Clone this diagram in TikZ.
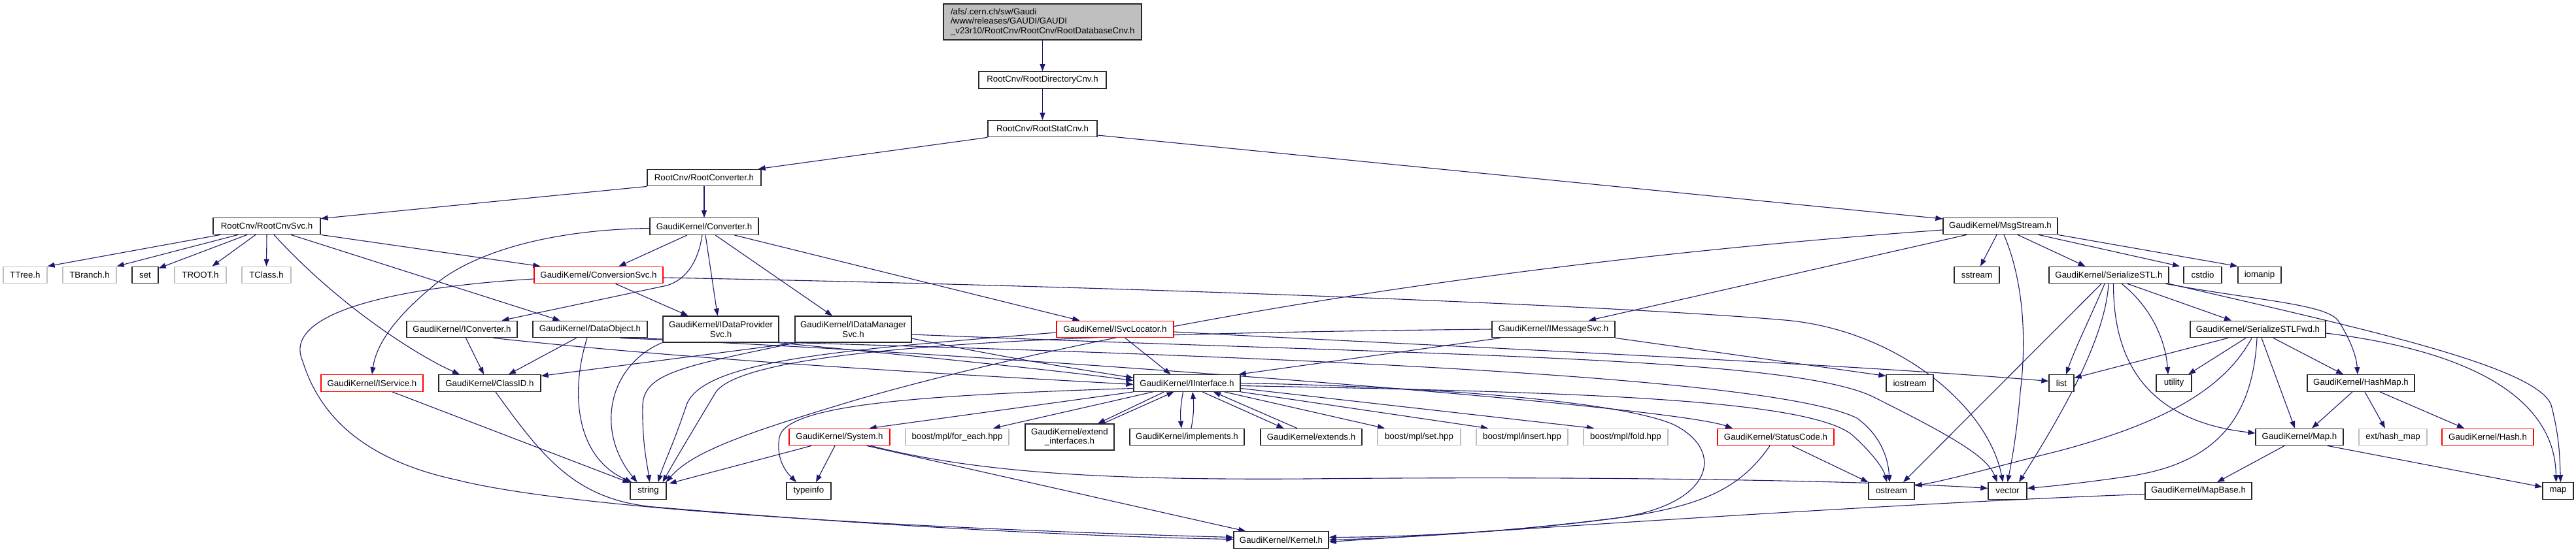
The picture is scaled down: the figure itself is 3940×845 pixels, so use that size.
\documentclass[tikz,border=0pt]{standalone}
\usepackage{fontspec}
\setmainfont{Liberation Sans}
\usetikzlibrary{arrows.meta}
\definecolor{mblue}{HTML}{191970}
\definecolor{gborder}{HTML}{BFBFBF}
\definecolor{rootfill}{HTML}{BFBFBF}
\newcommand\nodefont{\fontsize{13.3}{14.7}\selectfont}
\pgfdeclarelayer{bg}
\pgfdeclarelayer{edges}
\pgfsetlayers{bg,edges,main}
\tikzset{
  nbox/.style={draw=black!85, line width=1.3pt, fill=white, inner sep=0pt, font=\nodefont, align=center, minimum height=25.5pt},
  gbox/.style={nbox, draw=gborder},
  rbox/.style={nbox, draw=red},
  dep/.style={draw=mblue, line width=1.1pt, -{Triangle[length=11pt,width=8pt]}}
}
\begin{document}
\begin{tikzpicture}[x=1pt,y=-1pt]
\begin{pgfonlayer}{bg}
\fill[white] (0,0) rectangle (3940,845);
\end{pgfonlayer}
\useasboundingbox (0,0) rectangle (3940,845);

% nodes
\node[nbox, fill=rootfill, minimum width=303pt, minimum height=55pt, align=left, text width=281pt] (root) at (1594.5,33.5) {/afs/.cern.ch/sw/Gaudi\\/www/releases/GAUDI/GAUDI\\\_v23r10/RootCnv/RootCnv/RootDatabaseCnv.h};
\node[nbox, minimum width=195pt] (rdir) at (1594.5,122.5) {RootCnv/RootDirectoryCnv.h};
\node[nbox, minimum width=167pt] (rstat) at (1594.5,197) {RootCnv/RootStatCnv.h};
\node[nbox, minimum width=174pt] (rconv) at (1077,272) {RootCnv/RootConverter.h};
\node[nbox, minimum width=166pt] (conv) at (1077,346.5) {GaudiKernel/Converter.h};
\node[nbox, minimum width=164pt] (rcnvsvc) at (408,346) {RootCnv/RootCnvSvc.h};
\node[nbox, minimum width=175pt] (msg) at (3059.5,346) {GaudiKernel/MsgStream.h};
\node[gbox, minimum width=67pt] (ttree) at (38.5,421) {TTree.h};
\node[gbox, minimum width=82pt] (tbranch) at (137,421) {TBranch.h};
\node[nbox, minimum width=40pt] (set) at (222,421) {set};
\node[gbox, minimum width=79pt] (troot) at (306.5,421) {TROOT.h};
\node[gbox, minimum width=75pt] (tclass) at (407.5,421) {TClass.h};
\node[rbox, minimum width=197pt] (convsvc) at (915.5,421) {GaudiKernel/ConversionSvc.h};
\node[nbox, minimum width=69pt] (sstream) at (3023.5,421) {sstream};
\node[nbox, minimum width=183pt] (sstl) at (3225.5,421) {GaudiKernel/SerializeSTL.h};
\node[nbox, minimum width=58pt] (cstdio) at (3369,421) {cstdio};
\node[nbox, minimum width=66pt] (iomanip) at (3456,421) {iomanip};
\node[nbox, minimum width=169pt] (iconv) at (706.5,504) {GaudiKernel/IConverter.h};
\node[nbox, minimum width=175pt] (dobj) at (902.5,504) {GaudiKernel/DataObject.h};
\node[nbox, minimum width=177pt, minimum height=40pt] (idps) at (1102.5,504) {GaudiKernel/IDataProvider\\Svc.h};
\node[nbox, minimum width=178pt, minimum height=40pt] (idms) at (1305,504) {GaudiKernel/IDataManager\\Svc.h};
\node[rbox, minimum width=179pt] (isvcloc) at (1705.5,504) {GaudiKernel/ISvcLocator.h};
\node[nbox, minimum width=188pt] (imsg) at (2376,504) {GaudiKernel/IMessageSvc.h};
\node[nbox, minimum width=207pt] (sstlfwd) at (3453.5,504) {GaudiKernel/SerializeSTLFwd.h};
\node[rbox, minimum width=156pt] (iservice) at (569,586.5) {GaudiKernel/IService.h};
\node[nbox, minimum width=156pt] (classid) at (749,586.5) {GaudiKernel/ClassID.h};
\node[nbox, minimum width=163pt] (iint) at (1815.5,586.5) {GaudiKernel/IInterface.h};
\node[nbox, minimum width=72pt] (iostream) at (2921,586.5) {iostream};
\node[nbox, minimum width=38pt] (list) at (3153,586.5) {list};
\node[nbox, minimum width=54pt] (utility) at (3325,586.5) {utility};
\node[nbox, minimum width=164pt] (hashmap) at (3611,586.5) {GaudiKernel/HashMap.h};
\node[rbox, minimum width=154pt] (system) at (1284,669) {GaudiKernel/System.h};
\node[gbox, minimum width=158pt] (foreach) at (1464,669) {boost/mpl/for\_each.hpp};
\node[nbox, minimum width=136pt, minimum height=40pt] (extint) at (1636,669) {GaudiKernel/extend\\\_interfaces.h};
\node[nbox, minimum width=175pt] (impl) at (1815.5,669) {GaudiKernel/implements.h};
\node[nbox, minimum width=155pt] (extends) at (2005.5,669) {GaudiKernel/extends.h};
\node[gbox, minimum width=127pt] (mplset) at (2170.5,669) {boost/mpl/set.hpp};
\node[gbox, minimum width=140pt] (mplins) at (2328,669) {boost/mpl/insert.hpp};
\node[gbox, minimum width=129pt] (mplfold) at (2486.5,669) {boost/mpl/fold.hpp};
\node[rbox, minimum width=178pt] (statuscode) at (2716,669) {GaudiKernel/StatusCode.h};
\node[nbox, minimum width=134pt] (maph) at (3517,669) {GaudiKernel/Map.h};
\node[gbox, minimum width=104pt] (exthash) at (3660,669) {ext/hash\_map};
\node[rbox, minimum width=140pt] (hash) at (3805,669) {GaudiKernel/Hash.h};
\node[nbox, minimum width=55pt] (string) at (991.5,751.5) {string};
\node[nbox, minimum width=68pt] (typeinfo) at (1237,751.5) {typeinfo};
\node[nbox, minimum width=70pt] (ostream) at (2893,751.5) {ostream};
\node[nbox, minimum width=59pt] (vector) at (3070.5,751.5) {vector};
\node[nbox, minimum width=163pt] (mapbase) at (3362.5,751.5) {GaudiKernel/MapBase.h};
\node[nbox, minimum width=47pt] (map) at (3912.5,751.5) {map};
\node[nbox, minimum width=145pt] (kernel) at (1959.5,826.5) {GaudiKernel/Kernel.h};

\begin{pgfonlayer}{edges}
% top chain
\draw[dep] (root) -- (rdir);
\draw[dep] (rdir) -- (rstat);
\draw[dep] (rstat.south west) -- ([xshift=-5pt]rconv.north east);
\draw[dep] ([yshift=-10pt]rstat.east) -- ([yshift=11pt]msg.west);
\draw[dep] (rconv.south west) -- ([yshift=-2pt]rcnvsvc.north east);
\draw[dep] (rconv) -- (conv);
% RootCnvSvc
\draw[dep] ([xshift=-71pt]rcnvsvc.south) -- (ttree.north east);
\draw[dep] ([xshift=-44pt]rcnvsvc.south) -- (tbranch.north east);
\draw[dep] ([xshift=-30pt]rcnvsvc.south) -- ([yshift=-3pt]set.north east);
\draw[dep] ([xshift=-17pt]rcnvsvc.south) -- ([xshift=18pt]troot.north);
\draw[dep] (rcnvsvc.south) -- (tclass.north);
\draw[dep] ([xshift=11pt]rcnvsvc.south) .. controls (520,470) and (640,545) .. ([xshift=-46pt]classid.north);
\draw[dep] ([xshift=37pt]rcnvsvc.south) -- ([xshift=-46pt]dobj.north);
\draw[dep] (rcnvsvc.south east) -- ([xshift=10pt]convsvc.north west);
% Converter
\draw[dep] ([yshift=-3pt]conv.west) .. controls (820,352) and (710,395) .. (660,440) .. controls (600,490) and (575,530) .. (iservice.north);
\draw[dep] ([xshift=-26pt]conv.south) -- ([xshift=31pt]convsvc.north);
\draw[dep] ([xshift=-3pt]conv.south) .. controls (1068,400) and (1050,428) .. (1020,437) -- ([xshift=61pt]iconv.north);
\draw[dep] ([xshift=2pt]conv.south) -- ([xshift=-5pt]idps.north);
\draw[dep] ([xshift=17pt]conv.south) -- ([xshift=-32pt]idms.north);
\draw[dep] ([xshift=46pt]conv.south) -- ([xshift=-54pt]isvcloc.north);
% ConversionSvc
\draw[dep] ([xshift=26pt]convsvc.south) -- ([xshift=-50pt]idps.north);
\draw[dep] ([yshift=-4pt]convsvc.east) .. controls (1800,440) and (2500,470) .. (2730,490) .. controls (2900,505) and (3040,620) .. ([xshift=-7pt]vector.north);
\draw[dep] ([yshift=-6pt]convsvc.west) .. controls (600,440) and (430,480) .. (463,553) .. controls (490,640) and (560,705) .. (700,735) .. controls (900,785) and (1500,812) .. ([yshift=4pt]kernel.west);
% ClassID
\draw[dep] ([xshift=9pt]classid.south) .. controls (830,700) and (880,765) .. (1000,776) .. controls (1400,810) and (1700,822) .. ([yshift=1pt]kernel.west);
% IService
\draw[dep] ([xshift=31pt]iservice.south) -- ([yshift=-1pt]string.north west);
% IConverter
\draw[dep] ([xshift=6pt]iconv.south) -- ([xshift=-9pt]classid.north);
\draw[dep] ([xshift=48pt]iconv.south) .. controls (1100,555) and (1500,575) .. ([yshift=-2pt]iint.west);
% DataObject
\draw[dep] ([xshift=-21pt]dobj.south) -- ([xshift=29pt]classid.north);
\draw[dep] ([xshift=-4.5pt]dobj.south) .. controls (872,600) and (880,700) .. ([xshift=3pt]string.north west);
\draw[dep] ([xshift=46pt]dobj.south) .. controls (1500,540) and (2550,620) .. ([xshift=-66pt]statuscode.north);
\draw[dep] ([xshift=50pt]dobj.south) .. controls (1800,540) and (2700,570) .. (2840,640) .. controls (2875,665) and (2888,700) .. ([xshift=-3pt]ostream.north);
% IDataProviderSvc
\draw[dep] ([xshift=-90pt]idps.south) .. controls (930,560) and (910,660) .. ([xshift=-17pt]string.north);
\draw[dep] ([xshift=88pt]idps.south) .. controls (1400,545) and (1600,565) .. ([yshift=4pt]iint.west);
% IDataManagerSvc
\draw[dep] ([xshift=-88pt]idms.south) .. controls (1050,560) and (985,570) .. (983,620) .. controls (982,680) and (990,710) .. ([xshift=2pt]string.north);
\draw[dep] ([xshift=-85pt]idms.south) -- ([yshift=11pt]classid.east);
\draw[dep] ([yshift=-14pt]idms.east) .. controls (1550,550) and (1650,565) .. ([yshift=8pt]iint.west);
\draw[dep] ([yshift=-8pt]idms.east) .. controls (2200,545) and (2750,545) .. (2870,610) .. controls (2990,670) and (3040,700) .. ([xshift=-16pt]vector.north);
% ISvcLocator
\draw[dep] ([xshift=15.5pt]isvcloc.south) -- ([xshift=-25pt]iint.north);
\draw[dep] ([yshift=-5pt]isvcloc.west) .. controls (1300,535) and (1075,550) .. (1050,620) .. controls (1030,680) and (1015,710) .. ([xshift=15pt]string.north);
\draw[dep] ([yshift=-4pt]isvcloc.east) .. controls (2100,525) and (2800,555) .. ([yshift=3pt]list.west);
% IMessageSvc
\draw[dep] ([xshift=-81pt]imsg.south) -- ([xshift=-3pt]iint.north east);
\draw[dep] (imsg.west) .. controls (1700,510) and (1150,525) .. (1095,600) .. controls (1065,650) and (1035,700) .. ([xshift=22pt]string.north);
\draw[dep] (imsg.south east) -- ([yshift=11pt]iostream.west);
% MsgStream
\draw[dep] ([xshift=-51.5pt]msg.south) -- ([xshift=54pt]imsg.north);
\draw[dep] ([yshift=-6pt]msg.west) .. controls (2300,400) and (1700,500) .. (1310,612) .. controls (1150,660) and (1060,690) .. ([xshift=-1pt]string.north east);
\draw[dep] ([xshift=-5.5pt]msg.south) -- ([xshift=5.5pt]sstream.north);
\draw[dep] ([xshift=5.5pt]msg.south) .. controls (3095,430) and (3100,520) .. (3090,600) .. controls (3085,660) and (3078,700) .. (vector.north);
\draw[dep] ([xshift=26.5pt]msg.south) -- ([xshift=-36pt]sstl.north);
\draw[dep] ([xshift=58.5pt]msg.south) -- ([xshift=-35pt]cstdio.north);
\draw[dep] (msg.south east) -- (iomanip.north west);
% IInterface
\draw[dep] (iint.south west) -- ([xshift=-32pt]system.north east);
\draw[dep] ([xshift=-52pt]iint.south) -- ([xshift=55pt]foreach.north);
\draw[dep] ([xshift=-35pt]iint.south) -- ([xshift=43pt]extint.north);
\draw[dep] ([xshift=51pt]extint.north) -- ([xshift=-20pt]iint.south);
\draw[dep] ([xshift=-6pt]iint.south) to[bend right=8] ([xshift=-8.5pt]impl.north);
\draw[dep] ([xshift=6.5pt]impl.north) to[bend right=8] ([xshift=8.5pt]iint.south);
\draw[dep] ([xshift=23.5pt]iint.south) -- ([xshift=-42pt]extends.north);
\draw[dep] ([xshift=-21.5pt]extends.north) -- ([xshift=40.5pt]iint.south);
\draw[dep] ([xshift=-25pt]iint.south east) -- ([xshift=-52.5pt]mplset.north);
\draw[dep] (iint.south east) -- ([xshift=-52pt]mplins.north);
\draw[dep] ([yshift=-8pt]iint.east) -- ([xshift=-48.5pt]mplfold.north);
\draw[dep] ([yshift=-4pt]iint.east) .. controls (2400,600) and (2760,610) .. (2832,665) .. controls (2860,690) and (2880,715) .. ([xshift=-7pt]ostream.north);
\draw[dep] (iint.east) .. controls (2200,592) and (2480,615) .. (2560,650) .. controls (2640,690) and (2620,770) .. (2480,792) .. controls (2300,815) and (2150,823) .. (kernel.east);
\draw[dep] ([yshift=-8pt]iint.west) .. controls (1400,605) and (1200,620) .. (1192,670) .. controls (1186,705) and (1205,725) .. ([xshift=-19pt]typeinfo.north);
% System
\draw[dep] ([xshift=-43pt]system.south) -- ([xshift=4pt,yshift=-2pt]string.north east);
\draw[dep] ([xshift=-7pt]system.south) -- ([xshift=11pt]typeinfo.north);
\draw[dep] ([xshift=-36pt]system.south east) -- ([xshift=19pt]kernel.north west);
\draw[dep] ([xshift=-30pt]system.south east) .. controls (1500,725) and (1700,735) .. (2000,733) .. controls (2500,728) and (2900,738) .. ([yshift=4pt]vector.west);
% StatusCode
\draw[dep] ([xshift=25pt]statuscode.south) -- (ostream.north west);
\draw[dep] ([xshift=-9pt]statuscode.south) .. controls (2660,750) and (2600,778) .. (2450,796) .. controls (2300,815) and (2150,822) .. ([yshift=4pt]kernel.east);
% SerializeSTL
\draw[dep] ([xshift=28.5pt]sstl.south) -- ([xshift=-40.5pt]sstlfwd.north);
\draw[dep] ([xshift=-11.5pt]sstl.south) -- ([xshift=18pt]ostream.north);
\draw[dep] ([xshift=-6.5pt]sstl.south) .. controls (3200,480) and (3175,530) .. ([xshift=7pt]list.north);
\draw[dep] ([xshift=-0.5pt]sstl.south) .. controls (3220,520) and (3150,640) .. ([xshift=17.5pt]vector.north);
\draw[dep] ([xshift=19.5pt]sstl.south) .. controls (3290,470) and (3312,520) .. ([xshift=-9pt]utility.north);
\draw[dep] ([xshift=7pt]sstl.south) .. controls (3232,560) and (3290,645) .. ([yshift=6pt]maph.west);
\draw[dep] ([xshift=-5pt]sstl.south east) .. controls (3450,460) and (3560,465) .. (3577,492) .. controls (3595,520) and (3604,545) .. ([xshift=-5pt]hashmap.north);
\draw[dep] (sstl.south east) .. controls (3600,500) and (3880,560) .. (3902,620) .. controls (3915,670) and (3915,700) .. ([xshift=4pt]map.north);
% SerializeSTLFwd
\draw[dep] ([xshift=-45.5pt]sstlfwd.south) -- ([yshift=8pt]list.east);
\draw[dep] ([xshift=-18.5pt]sstlfwd.south) -- ([xshift=22pt]utility.north);
\draw[dep] ([xshift=-9.5pt]sstlfwd.south) .. controls (3400,600) and (3300,650) .. (3150,690) .. controls (3050,715) and (2980,735) .. ([yshift=8pt]ostream.east);
\draw[dep] ([xshift=-1.5pt]sstlfwd.south) .. controls (3445,650) and (3380,712) .. (3250,730) .. controls (3180,740) and (3130,745) .. ([yshift=4pt]vector.east);
\draw[dep] ([xshift=5.5pt]sstlfwd.south) -- ([xshift=-7pt]maph.north);
\draw[dep] ([xshift=23.5pt]sstlfwd.south) -- ([xshift=-27pt]hashmap.north);
\draw[dep] ([yshift=-6pt]sstlfwd.east) .. controls (3800,540) and (3908,620) .. ([xshift=-3pt]map.north);
% HashMap
\draw[dep] ([xshift=-13pt]hashmap.south) -- ([xshift=19pt]maph.north);
\draw[dep] ([xshift=6pt]hashmap.south) -- ([xshift=-12pt]exthash.north);
\draw[dep] ([xshift=29pt]hashmap.south) -- ([xshift=-36pt]hash.north);
% Map
\draw[dep] ([xshift=-23pt]maph.south) -- ([xshift=28.5pt]mapbase.north);
\draw[dep] ([xshift=43pt]maph.south) -- ([yshift=6pt]map.west);
% MapBase
\draw[dep] ([yshift=-5pt]mapbase.west) .. controls (2900,770) and (2300,812) .. ([yshift=-3pt]kernel.east);
\end{pgfonlayer}
\end{tikzpicture}
\end{document}
